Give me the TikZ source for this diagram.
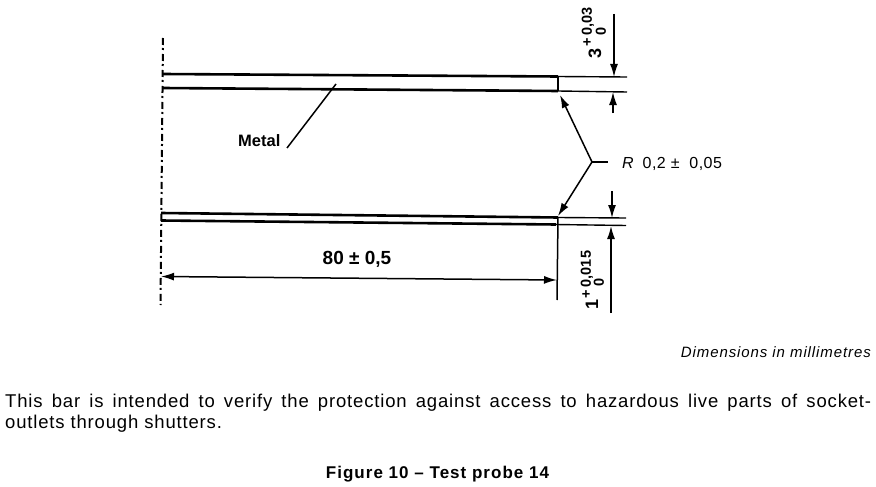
\documentclass[tikz,border=0pt]{standalone}
\usepackage{fontspec}
\setmainfont{Liberation Sans}
\usetikzlibrary{arrows.meta}
\newfontface\spacedtext[LetterSpace=4.5]{Liberation Sans}
\newfontface\spacedbold[LetterSpace=6]{Liberation Sans Bold}
\newfontface\spacedital[LetterSpace=6]{Liberation Sans Italic}
\newfontface\spacedrad[LetterSpace=3]{Liberation Sans}
\newfontface\spacedradit[LetterSpace=3]{Liberation Sans Italic}
\tikzset{
  heavy/.style={line width=2.6pt,black},
  thinl/.style={line width=1.4pt,black},
  dimen/.style={line width=1.5pt,black},
  tip/.style={-{Latex[length=13pt,width=8pt]}},
  axis/.style={line width=2pt,black,dash pattern=on 7pt off 3pt on 2pt off 4pt},
  lab/.style={inner sep=0pt,font=\bfseries},
  rotlab/.style={inner sep=0pt,rotate=90,font=\bfseries\fontsize{14.5}{16}\selectfont},
}
\begin{document}
\begin{tikzpicture}[x=1pt,y=-1pt]
\useasboundingbox (0,0) rectangle (876,487);
% reference coordinates
\coordinate (axTa) at (163,38); \coordinate (axBb) at (160.5,305);
\coordinate (t1a) at (163,74); \coordinate (t1b) at (558,76.5); \coordinate (t1c) at (627,77);
\coordinate (t2a) at (163,88); \coordinate (t2b) at (558,91); \coordinate (t2c) at (627,92);
\coordinate (b1a) at (161,213); \coordinate (b1b) at (558,217.5); \coordinate (b1c) at (626,218);
\coordinate (b2a) at (161,220.5); \coordinate (b2b) at (556,224.5); \coordinate (b2c) at (626,225.5);
\coordinate (ext) at (557,300);
\coordinate (hub) at (592,162); \coordinate (hubr) at (608,162);
\coordinate (rt) at (560,95); \coordinate (rb) at (558,216);
\coordinate (d3a) at (614,14); \coordinate (d3b) at (614,77);
\coordinate (d3c) at (613,113); \coordinate (d3d) at (613,92);
\coordinate (d1a) at (612,191); \coordinate (d1b) at (612,218);
\coordinate (d1c) at (611,313); \coordinate (d1d) at (611,226);
\coordinate (dl) at (161,276.5); \coordinate (dr) at (557,280);
\coordinate (ml) at (287,148); \coordinate (mr) at (336,84);
% centre line
\draw[axis] (axTa) -- (axBb);
% bars
\draw[heavy] (t1a) -- (t1b);
\draw[thinl] (t1b) -- (t1c);
\draw[heavy] (t2a) -- (t2b);
\draw[thinl] (t2b) -- (t2c);
\draw[heavy] (t1b) -- (t2b);
\draw[heavy] (b1a) -- (b1b);
\draw[thinl] (b1b) -- (b1c);
\draw[heavy] (b2a) -- (b2b);
\draw[thinl] (b2b) -- (b2c);
\draw[dimen] (b1b) -- (ext);
% dimensions
\draw[dimen,tip] (d3a) -- (d3b);
\draw[dimen,tip] (d3c) -- (d3d);
\draw[dimen,tip] (d1a) -- (d1b);
\draw[dimen,tip] (d1c) -- (d1d);
\draw[dimen,{Latex[length=13pt,width=8pt]}-{Latex[length=13pt,width=8pt]}] (dl) -- (dr);
% leaders
\draw[dimen,tip] (hub) -- (rt);
\draw[dimen,tip] (hub) -- (rb);
\draw[dimen] (hub) -- (hubr);
\draw[dimen] (ml) -- (mr);
% labels
\node[lab,anchor=west,font=\bfseries\fontsize{16.5}{18}\selectfont] (metal) at (238,141) {Metal};
\node[lab,font=\bfseries\fontsize{19}{21}\selectfont] (len) at (357,259.5) {80 ± 0,5};
\node[inner sep=0pt,anchor=west,font=\fontsize{16}{18}\selectfont] (rad) at (622,164) {{\spacedradit R}\ \ \spacedrad 0,2 ±\ \ 0,05};
\node[rotlab,font=\bfseries\fontsize{18}{20}\selectfont] (t3) at (595,53) {3};
\node[rotlab] (t3p) at (588,27) {+\,0,03};
\node[rotlab] (t3z) at (601,31) {0};
\node[rotlab,font=\bfseries\fontsize{18}{20}\selectfont] (t1) at (592,304) {1};
\node[rotlab] (t1p) at (587,274.5) {+\,0,015};
\node[rotlab] (t1z) at (599,282) {0};
\node[inner sep=0pt,anchor=east,font=\fontsize{15}{17}\selectfont] (units) at (871,352) {\spacedital Dimensions in millimetres};
\node[inner sep=0pt,anchor=north west,text width=866pt,align=justify,font=\fontsize{18.5}{21}\selectfont] (para) at (5,393.5) {\spacedtext This bar is intended to verify the protection against access to hazardous live parts of socket-\linebreak outlets through shutters.};
\node[inner sep=0pt,font=\fontsize{17}{19}\selectfont] (cap) at (437.5,474) {\spacedbold Figure 10 – Test probe 14};
\end{tikzpicture}
\end{document}
